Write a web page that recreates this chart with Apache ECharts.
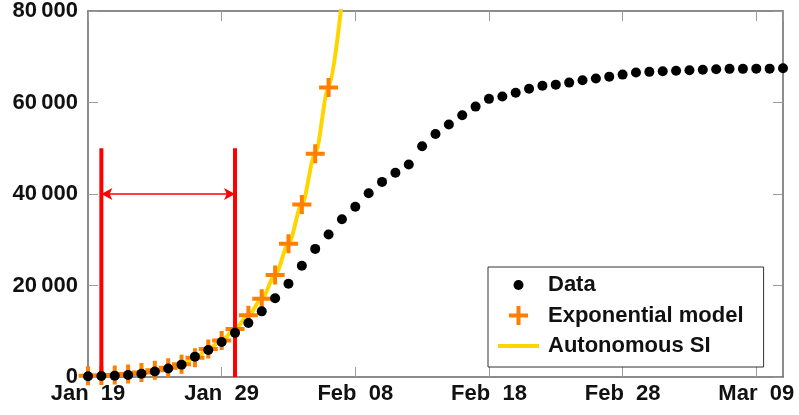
<!DOCTYPE html>
<html>
<head>
<meta charset="utf-8">
<script src="https://cdn.jsdelivr.net/npm/echarts@6/dist/echarts.min.js"></script>
<style>
  html, body { margin: 0; padding: 0; background: #fff; }
  #chart { width: 799px; height: 415px; }
</style>
</head>
<body>
<div id="chart"></div>
<script>
// Day index 0 = Jan 19; one point per day up to Mar 11.
const tickLabels = ['Jan  19', 'Jan  29', 'Feb  08', 'Feb  18', 'Feb  28', 'Mar  09'];

// Cumulative confirmed cases
const confirmed = [
  150, 200, 300, 450, 700, 1200, 1850, 2700, 4450, 5900,
  7650, 9650, 11800, 14350, 17200, 20400, 24300, 28000, 31150, 34500,
  37200, 40150, 42650, 44650, 46450, 50450, 53100, 55200, 57200, 59100,
  60800, 61300, 62150, 63000, 63650, 63900, 64350, 64850, 65250, 65650,
  66100, 66550, 66700, 66850, 66950, 67050, 67150, 67250, 67350, 67350,
  67400, 67400, 67500
];

// Exponential model, daily values (day 0 .. 18)
const exponentialModel = [
  250, 350, 450, 650, 1000, 1450, 2000, 2800, 4200, 6100,
  8000, 10500, 13500, 17100, 22300, 29100, 37700, 48800, 63300
];

// Autonomous SI model curve (day 0 .. 19)
const autonomousSI = [
  250, 350, 450, 650, 1000, 1450, 2000, 2800, 4200, 6100,
  8000, 10500, 13500, 17100, 22300, 29100, 37700, 48800, 63300, 82300
];

// Fitting window (day indices) and its bracket heights
const windowDays = [1, 11];
const windowTop = 50000;
const bracketLevel = 40000;

const toPairs = arr => arr.map((v, i) => [i, v]);

const FONT = '"Liberation Sans", Arial, sans-serif';
const axisColor = '#666666';
const tickColor = '#9a9a9a';

const plusPath = 'path://M0,7.5 L19,7.5 L19,11.5 L0,11.5 Z M7.5,0 L11.5,0 L11.5,19 L7.5,19 Z';
// legend icons drawn inside a 41x20 box
const legendDot = 'path://M0,0 M41,20 M15.5,10 A5,5 0 1,0 25.5,10 A5,5 0 1,0 15.5,10 Z';
const legendPlus = 'path://M0,0 M41,20 M11,8 L30,8 L30,12 L11,12 Z M18.5,0.5 L22.5,0.5 L22.5,19.5 L18.5,19.5 Z';
const legendBar = 'path://M0,0 M41,20 M0,8 L41,8 L41,12 L0,12 Z';

const fmtThousands = v => {
  if (v === 0) return '0';
  const s = String(v);
  return s.slice(0, s.length - 3) + '\u2009' + s.slice(-3);
};

const chart = echarts.init(document.getElementById('chart'), null, { renderer: 'canvas' });

const option = {
  animation: false,
  backgroundColor: '#ffffff',
  grid: { left: 88, right: 16, top: 9, bottom: 38, containLabel: false },
  xAxis: [
    {
      type: 'value', min: 0, max: 52, interval: 10,
      axisLine: { show: true, onZero: false, lineStyle: { color: axisColor, width: 1.5 } },
      axisTick: { show: true, inside: true, length: 10, lineStyle: { color: tickColor, width: 1 } },
      splitLine: { show: false },
      axisLabel: {
        margin: 6,
        color: '#111', fontFamily: FONT, fontWeight: 'bold', fontSize: 22,
        showMaxLabel: false,
        formatter: v => (v % 10 === 0 && tickLabels[v / 10]) ? tickLabels[v / 10] : ''
      }
    },
    {
      type: 'value', min: 0, max: 52, interval: 10, position: 'top',
      axisLine: { show: true, onZero: false, lineStyle: { color: axisColor, width: 1.5 } },
      axisTick: { show: true, inside: true, length: 10, lineStyle: { color: tickColor, width: 1 } },
      splitLine: { show: false },
      axisLabel: { show: false }
    }
  ],
  yAxis: [
    {
      type: 'value', min: 0, max: 80000, interval: 20000,
      axisLine: { show: true, onZero: false, lineStyle: { color: axisColor, width: 1.5 } },
      axisTick: { show: true, inside: true, length: 10, lineStyle: { color: tickColor, width: 1 } },
      splitLine: { show: false },
      axisLabel: {
        margin: 10,
        color: '#111', fontFamily: FONT, fontWeight: 'bold', fontSize: 22,
        formatter: fmtThousands
      }
    },
    {
      type: 'value', min: 0, max: 80000, interval: 20000, position: 'right',
      axisLine: { show: true, onZero: false, lineStyle: { color: axisColor, width: 1.5 } },
      axisTick: { show: true, inside: true, length: 10, lineStyle: { color: tickColor, width: 1 } },
      splitLine: { show: false },
      axisLabel: { show: false }
    }
  ],
  legend: {
    left: 488, top: 267,
    orient: 'vertical',
    align: 'left',
    backgroundColor: '#ffffff',
    borderColor: '#333333', borderWidth: 1, borderRadius: 0,
    padding: [5, 20, 8, 10],
    itemGap: 4.5,
    itemWidth: 41, itemHeight: 20,
    selectedMode: false,
    textStyle: {
      color: '#111', fontFamily: FONT, fontWeight: 'bold', fontSize: 22,
      lineHeight: 26, padding: [0, 0, 0, 4]
    },
    data: [
      { name: 'Data', icon: legendDot },
      { name: 'Exponential model', icon: legendPlus },
      { name: 'Autonomous SI', icon: legendBar }
    ]
  },
  series: [
    {
      name: 'Autonomous SI',
      type: 'line',
      data: toPairs(autonomousSI),
      symbol: 'none',
      showSymbol: false,
      smooth: 0.3,
      smoothMonotone: 'x',
      clip: true,
      lineStyle: { color: '#ffd500', width: 4 },
      itemStyle: { color: '#ffd500' },
      z: 2
    },
    {
      name: 'Exponential model',
      type: 'scatter',
      data: toPairs(exponentialModel),
      symbol: plusPath,
      symbolSize: 19,
      itemStyle: { color: '#ff7f00', opacity: 1 },
      z: 3
    },
    {
      name: 'window start',
      type: 'line',
      data: [[windowDays[0], 0], [windowDays[0], windowTop]],
      symbol: 'none',
      lineStyle: { color: '#ff0000', width: 4 },
      z: 4,
      markLine: {
        silent: true,
        symbol: ['arrow', 'arrow'],
        symbolSize: [9, 11],
        label: { show: false },
        lineStyle: { color: '#ff0000', width: 1.5, type: 'solid' },
        data: [[
          { coord: [windowDays[0], bracketLevel] },
          { coord: [windowDays[1], bracketLevel] }
        ]]
      }
    },
    {
      name: 'window end',
      type: 'line',
      data: [[windowDays[1], 0], [windowDays[1], windowTop]],
      symbol: 'none',
      lineStyle: { color: '#ff0000', width: 4 },
      z: 4
    },
    {
      name: 'Data',
      type: 'scatter',
      data: toPairs(confirmed),
      symbol: 'circle',
      symbolSize: 10,
      itemStyle: { color: '#000000', opacity: 1 },
      z: 6
    }
  ]
};

chart.setOption(option);
</script>
</body>
</html>
